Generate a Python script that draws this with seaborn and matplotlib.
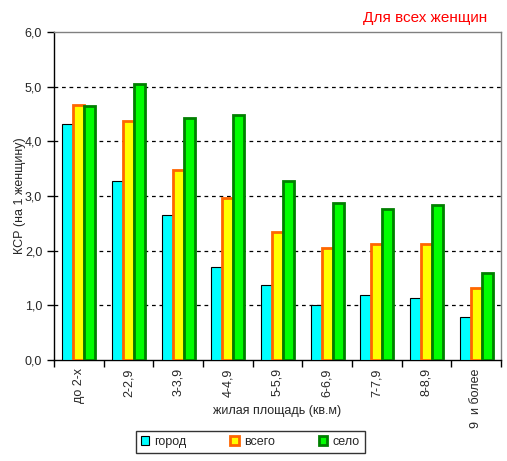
import pandas as pd
import numpy as np
import matplotlib
matplotlib.use('Agg')
import matplotlib.pyplot as plt
import seaborn as sns
from matplotlib.ticker import FuncFormatter, FixedLocator

# data
categories = ['до 2-х', '2-2,9', '3-3,9', '4-4,9', '5-5,9', '6-6,9', '7-7,9', '8-8,9', '9  и более']
gorod = [4.32, 3.27, 2.65, 1.71, 1.38, 1.00, 1.18, 1.13, 0.78]
vsego = [4.67, 4.38, 3.48, 2.97, 2.34, 2.04, 2.12, 2.13, 1.32]
selo = [4.64, 5.04, 4.43, 4.48, 3.27, 2.87, 2.76, 2.83, 1.60]
series = ['город', 'всего', 'село']

df = pd.DataFrame({'cat': categories * 3,
                   'val': gorod + vsego + selo,
                   'series': [s for s in series for _ in categories]})

sns.set_style('white')
plt.rcParams['font.family'] = ['Liberation Sans', 'DejaVu Sans']

fig = plt.figure(figsize=(5.07, 4.61), dpi=100)
ax = fig.add_axes([54/507, 1-360/461, 447/507, 328/461])

fills = ['#00FFFF', '#FFFF00', '#00FF00']
edges = ['black', '#FF6600', '#008000']
lws = [0.8, 2.0, 2.0]

sns.barplot(data=df, x='cat', y='val', hue='series', palette=fills,
            width=0.66, saturation=1, ax=ax, legend=False, zorder=3)
for cont, ec, lw in zip(ax.containers, edges, lws):
    for p in cont:
        p.set_edgecolor(ec)
        p.set_linewidth(lw)

ax.set_ylim(0, 6)
ax.set_xlim(-0.5, 8.5)
ax.set_yticks(np.arange(0, 6.1, 1))
ax.yaxis.set_major_formatter(FuncFormatter(lambda v, p: f'{v:.1f}'.replace('.', ',')))
for y in range(1, 6):
    ax.axhline(y, color='black', ls=(0, (3, 3)), lw=0.9, zorder=1)

ax.tick_params(axis='y', which='major', direction='out', length=5, width=1, color='black', labelsize=9, left=True)
ax.tick_params(axis='x', which='major', length=0, labelsize=9, rotation=90, pad=6)
ax.xaxis.set_minor_locator(FixedLocator(np.arange(-0.5, 9, 1)))
ax.tick_params(axis='x', which='minor', direction='out', length=5, width=1, color='black', bottom=True)

for s in ['left', 'bottom']:
    ax.spines[s].set_color('black')
    ax.spines[s].set_linewidth(1)
for s in ['top', 'right']:
    ax.spines[s].set_color('#808080')
    ax.spines[s].set_linewidth(1)

ax.set_xlabel('жилая площадь (кв.м)', fontsize=9)
ax.xaxis.set_label_coords(0.5, -(411 - 360) / 328, transform=ax.transAxes)
ax.xaxis.label.set_va('center')
ax.set_ylabel('КСР (на 1 женщину)', fontsize=9)
ax.yaxis.set_label_coords((20 - 54) / 447, 0.5, transform=ax.transAxes)
ax.yaxis.label.set_va('center')

fig.text(487/507, 1-18/461, 'Для всех женщин', color='red', fontsize=11, ha='right', va='center')

handles = [plt.Rectangle((0, 0), 1, 1, facecolor=f, edgecolor=e, lw=l) for f, e, l in zip(fills, edges, lws)]
leg = fig.legend(handles, series, loc='center', bbox_to_anchor=(250/507, 1-442/461), ncol=3,
                 fontsize=9, frameon=True, fancybox=False, edgecolor='black',
                 handlelength=0.7, handleheight=0.7, columnspacing=3.5, handletextpad=0.4,
                 borderpad=0.4)
leg.get_frame().set_linewidth(1)

fig.savefig('out.png', dpi=100)
